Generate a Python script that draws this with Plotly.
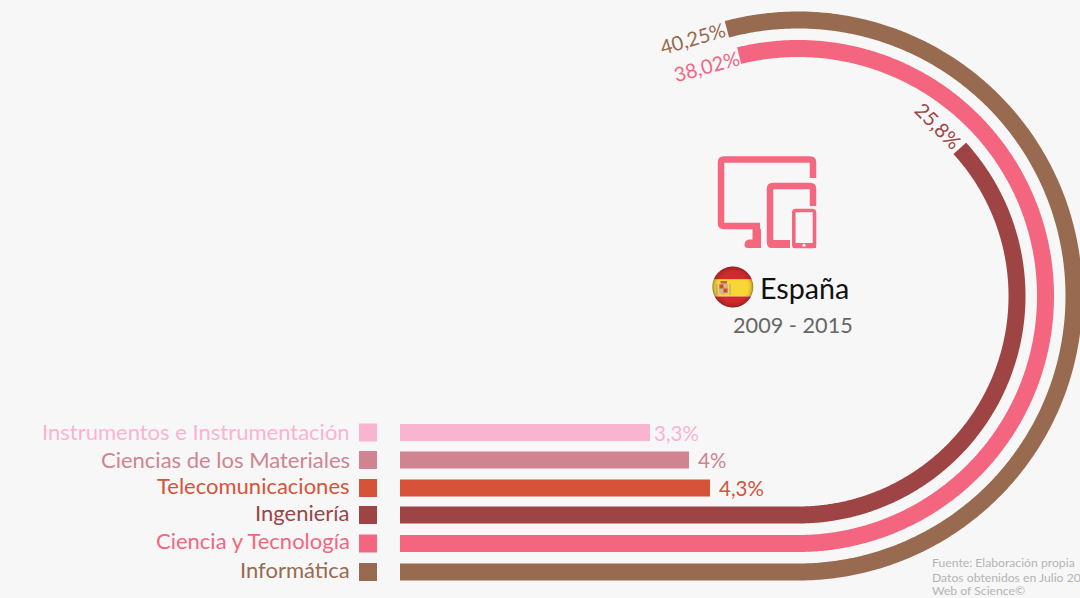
import numpy as np
import plotly.graph_objects as go

# ---- data ----
categories = ["Instrumentos e Instrumentación", "Ciencias de los Materiales", "Telecomunicaciones",
              "Ingeniería", "Ciencia y Tecnología", "Informática"]
values = [3.3, 4.0, 4.3, 25.8, 38.02, 40.25]
value_labels = ["3,3%", "4%", "4,3%", "25,8%", "38,02%", "40,25%"]
colors = ["#F9B4D2", "#D08491", "#D65339", "#9E4445", "#F4667F", "#986A4F"]

# ---- the chart's (non linear) value -> path length scale, and layout ----
SCALE_VALUE = [0, 3.3, 4.0, 4.3, 25.8, 38.02, 40.25]
SCALE_LEN = [0, 250, 289, 310, 904, 1235, 1337]
X0, CX, CY = 400.0, 798.0, 296.0
ROWS = [432.5, 460.0, 488.0, 515.0, 543.5, 572.0]
LABEL_ROWS = [431.5, 459, 485, 512.5, 540.5, 569.5]
VALUE_GAPS = [2, 6.5, 6.5]
BG = "#F7F7F7"


def track(value, y):
    """Straight run from X0, then a circular arc round (CX, CY)."""
    length = float(np.interp(value, SCALE_VALUE, SCALE_LEN))
    straight = CX - X0
    if length <= straight:
        return [X0, X0 + length], [y, y]
    r = y - CY
    sweep = (length - straight) / r
    t = np.linspace(0, sweep, 400)
    xs = np.concatenate([[X0], CX + r * np.sin(t)])
    ys = np.concatenate([[y], CY + r * np.cos(t)])
    return xs, ys


fig = go.Figure()
for name, v, c, y in zip(categories, values, colors, ROWS):
    xs, ys = track(v, y)
    fig.add_trace(go.Scatter(x=xs, y=ys, mode="lines", name=name, hoverinfo="skip",
                             line=dict(color=c, width=17, simplify=False), showlegend=False))
    fig.add_trace(go.Scatter(x=[368], y=[y], mode="markers", hoverinfo="skip", showlegend=False,
                             marker=dict(symbol="square", size=18, color=c, line=dict(width=0))))

FONT = "Lato"
ann = []
for name, c, y in zip(categories, colors, LABEL_ROWS):
    ann.append(dict(x=352, y=y, text=name, xanchor="right", yanchor="middle", showarrow=False,
                    font=dict(family=FONT, size=22, color=c)))
# straight-bar value labels
for i in range(3):
    xs, _ = track(values[i], ROWS[i])
    ann.append(dict(x=xs[-1] + VALUE_GAPS[i], y=ROWS[i], text=value_labels[i], xanchor="left", yanchor="middle",
                    showarrow=False, font=dict(family=FONT, size=20.5, color=colors[i])))
# labels at the arc ends
for i, (lx, ly, rot) in zip([3, 4, 5], [(938, 125, 45), (706, 66, -15), (692.5, 37.5, -16)]):
    ann.append(dict(x=lx, y=ly, text=value_labels[i], xanchor="center", yanchor="middle", showarrow=False,
                    textangle=rot, font=dict(family=FONT, size=20, color=colors[i])))
ann.append(dict(x=757.5, y=287.5, text="España", xanchor="left", yanchor="middle", showarrow=False,
                font=dict(family=FONT, size=28.7, color="#111111")))
ann.append(dict(x=730.5, y=325, text="2009 - 2015", xanchor="left", yanchor="middle", showarrow=False,
                font=dict(family=FONT, size=21.7, color="#666666")))
for t, y in [("Fuente: Elaboración propia", 562.5), ("Datos obtenidos en Julio 20", 577.5), ("Web of Science©", 590.5)]:
    ann.append(dict(x=929.5, y=y, text=t, xanchor="left", yanchor="middle", showarrow=False,
                    font=dict(family=FONT, size=12.2, color="#B4B4B4")))

# ---- icon ----
PINK = "#F4687F"
shapes = []


def stroke(path, w):
    shapes.append(dict(type="path", path=path, line=dict(color=PINK, width=w), fillcolor="rgba(0,0,0,0)", layer="above"))


def fill(path, color=PINK):
    shapes.append(dict(type="path", path=path, line=dict(width=0), fillcolor=color, layer="above"))


stroke("M 760 226 H 724 Q 721 226 721 223 V 162.5 Q 721 159.5 724 159.5 H 810 Q 813 159.5 813 162.5 V 178", 6.5)
fill("M 752.5 229 H 761 V 248 H 748 Q 744 248 744.5 244 Q 745 240 749 239.5 H 752.5 Z")
stroke("M 790 244.5 H 773 Q 770 244.5 770 241.5 V 189 Q 770 186 773 186 H 810 Q 813 186 813 189 V 206", 6.5)
fill("M 767 240 H 790 V 248 H 772 Q 767 248 767 243 Z")
stroke("M 795 210.5 H 812.5 Q 814.5 210.5 814.5 212.5 V 245 Q 814.5 246.5 812.5 246.5 H 795.5 Q 793.8 246.5 793.8 245 V 212.5 Q 793.8 210.5 795.5 210.5 Z", 3.6)
fill("M 793 243 H 816 V 248 H 793 Z")
shapes.append(dict(type="circle", x0=802.5, x1=805.5, y0=243.8, y1=246.8, fillcolor="white", line=dict(width=0), layer="above"))

# ---- flag ----
FX, FY, FR = 732.8, 287.0, 20.4


def cap(y0, y1, color):
    ys = np.linspace(y0, y1, 30)
    half = np.sqrt(np.maximum(FR ** 2 - (ys - FY) ** 2, 0))
    pts = [(FX - h, y) for h, y in zip(half, ys)] + [(FX + h, y) for h, y in zip(half[::-1], ys[::-1])]
    fill("M " + " L ".join(f"{a:.2f} {b:.2f}" for a, b in pts) + " Z", color)


cap(FY - FR, FY - 7.5, "#CF2A2E")
cap(FY - 7.5, FY + 9.5, "#F8D735")
cap(FY + 9.5, FY + FR, "#CF2A2E")
# coat of arms
fill("M 719 284 H 728 V 293 Q 723.5 297 719 293 Z", "#D9B48A")
fill("M 719.5 284.5 H 723.5 V 288.5 H 719.5 Z", "#C4503A")
fill("M 723.5 288.5 H 727.5 V 292.5 H 723.5 Z", "#C4503A")
fill("M 716.2 284 H 717.6 V 295 H 716.2 Z", "#C9A98A")
fill("M 729.4 284 H 730.8 V 295 H 729.4 Z", "#C9A98A")
fill("M 720.5 281 H 727 V 283.6 H 720.5 Z", "#B7694A")
# edge shading
for dr, w, a in [(0.4, 1.0, 0.40), (1.3, 1.0, 0.22), (2.4, 1.3, 0.12), (3.8, 1.6, 0.06)]:
    r = FR - dr
    shapes.append(dict(type="circle", x0=FX - r, x1=FX + r, y0=FY - r, y1=FY + r, fillcolor="rgba(0,0,0,0)",
                       line=dict(color=f"rgba(60,20,20,{a})", width=w), layer="above"))

fig.update_layout(
    width=1080, height=598, margin=dict(l=0, r=0, t=0, b=0), autosize=False,
    paper_bgcolor=BG, plot_bgcolor=BG, showlegend=False, annotations=ann, shapes=shapes,
    xaxis=dict(range=[0, 1080], visible=False, fixedrange=True),
    yaxis=dict(range=[598, 0], visible=False, fixedrange=True),
)
fig.write_html("out.html", config={"displayModeBar": False},
               post_script="document.body.style.margin='0';document.body.style.background='%s';" % BG)
